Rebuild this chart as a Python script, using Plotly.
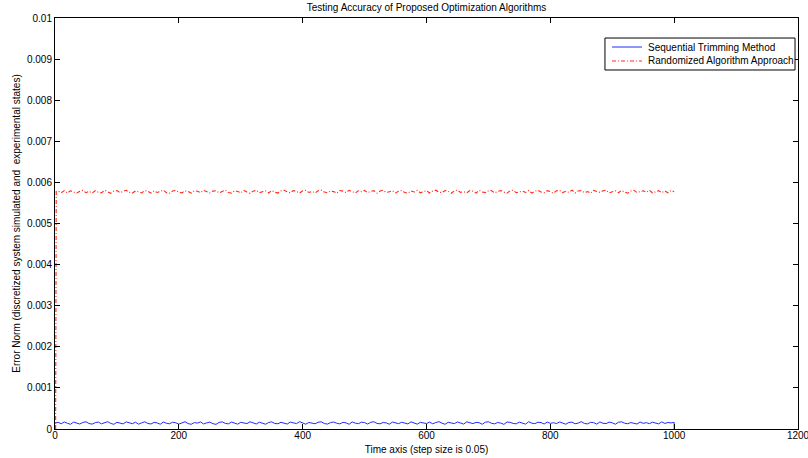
import plotly.graph_objects as go

# Time samples (every 5 steps) for the steady part of both runs
t_steady = list(range(5, 1001, 5))

# Randomized Algorithm Approach: error norm at each sample
rand_start_t = [1, 2]
rand_start_v = [0.0, 0.005778]
rand_vals = [
    0.005790, 0.005748, 0.005801, 0.005742, 0.005795, 0.005770, 0.005738, 0.005786, 0.005806, 0.005751,
    0.005784, 0.005740, 0.005797, 0.005763, 0.005745, 0.005808, 0.005772, 0.005736, 0.005789, 0.005799,
    0.005750, 0.005781, 0.005809, 0.005758, 0.005741, 0.005793, 0.005774, 0.005744, 0.005802, 0.005785,
    0.005739, 0.005796, 0.005755, 0.005782, 0.005811, 0.005749, 0.005737, 0.005791, 0.005804, 0.005760,
    0.005746, 0.005794, 0.005779, 0.005740, 0.005800, 0.005783, 0.005752, 0.005807, 0.005768, 0.005743,
    0.005788, 0.005799, 0.005747, 0.005776, 0.005812, 0.005753, 0.005739, 0.005797, 0.005781, 0.005745,
    0.005803, 0.005765, 0.005735, 0.005787, 0.005806, 0.005750, 0.005778, 0.005794, 0.005742, 0.005801,
    0.005761, 0.005741, 0.005792, 0.005809, 0.005771, 0.005748, 0.005800, 0.005785, 0.005738, 0.005795,
    0.005805, 0.005754, 0.005782, 0.005743, 0.005798, 0.005811, 0.005764, 0.005746, 0.005791, 0.005776,
    0.005736, 0.005802, 0.005787, 0.005751, 0.005807, 0.005769, 0.005742, 0.005796, 0.005773, 0.005804,
    0.005749, 0.005780, 0.005799, 0.005740, 0.005789, 0.005810, 0.005756, 0.005772, 0.005798, 0.005744,
    0.005786, 0.005803, 0.005752, 0.005737, 0.005794, 0.005766, 0.005806, 0.005747, 0.005777, 0.005801,
    0.005741, 0.005792, 0.005811, 0.005762, 0.005750, 0.005803, 0.005783, 0.005736, 0.005795, 0.005808,
    0.005757, 0.005774, 0.005745, 0.005799, 0.005788, 0.005739, 0.005806, 0.005765, 0.005752, 0.005791,
    0.005804, 0.005744, 0.005781, 0.005800, 0.005763, 0.005738, 0.005796, 0.005809, 0.005748, 0.005778,
    0.005790, 0.005755, 0.005802, 0.005740, 0.005785, 0.005807, 0.005766, 0.005749, 0.005799, 0.005774,
    0.005737, 0.005797, 0.005806, 0.005751, 0.005782, 0.005760, 0.005812, 0.005743, 0.005793, 0.005801,
    0.005753, 0.005776, 0.005739, 0.005805, 0.005787, 0.005758, 0.005798, 0.005808, 0.005744, 0.005771,
    0.005795, 0.005747, 0.005803, 0.005764, 0.005736, 0.005789, 0.005806, 0.005754, 0.005784, 0.005797,
    0.005762, 0.005810, 0.005742, 0.005779, 0.005800, 0.005750, 0.005791, 0.005746, 0.005802, 0.005775,
]

# Sequential Trimming Method: error norm at each sample
seq_start_t = [0]
seq_start_v = [0.000141]
seq_vals = [
    0.000162, 0.000128, 0.000171, 0.000139, 0.000115, 0.000168, 0.000150, 0.000121, 0.000159, 0.000176,
    0.000133, 0.000118, 0.000155, 0.000169, 0.000126, 0.000147, 0.000178, 0.000136, 0.000114, 0.000163,
    0.000152, 0.000124, 0.000173, 0.000141, 0.000129, 0.000166, 0.000117, 0.000150, 0.000175, 0.000134,
    0.000122, 0.000161, 0.000148, 0.000116, 0.000170, 0.000140, 0.000127, 0.000165, 0.000153, 0.000119,
    0.000158, 0.000177, 0.000131, 0.000115, 0.000156, 0.000144, 0.000172, 0.000123, 0.000149, 0.000167,
    0.000130, 0.000113, 0.000160, 0.000174, 0.000137, 0.000125, 0.000169, 0.000146, 0.000118, 0.000162,
    0.000154, 0.000132, 0.000176, 0.000140, 0.000122, 0.000166, 0.000150, 0.000116, 0.000157, 0.000173,
    0.000135, 0.000127, 0.000163, 0.000142, 0.000120, 0.000168, 0.000151, 0.000131, 0.000178, 0.000138,
    0.000117, 0.000159, 0.000147, 0.000128, 0.000164, 0.000175, 0.000133, 0.000119, 0.000155, 0.000170,
    0.000141, 0.000124, 0.000161, 0.000150, 0.000114, 0.000172, 0.000143, 0.000129, 0.000166, 0.000156,
    0.000121, 0.000163, 0.000177, 0.000136, 0.000126, 0.000159, 0.000148, 0.000117, 0.000169, 0.000152,
    0.000130, 0.000165, 0.000139, 0.000123, 0.000174, 0.000155, 0.000118, 0.000161, 0.000144, 0.000134,
    0.000168, 0.000127, 0.000157, 0.000179, 0.000141, 0.000115, 0.000163, 0.000150, 0.000131, 0.000171,
    0.000136, 0.000120, 0.000173, 0.000147, 0.000132, 0.000160, 0.000153, 0.000116, 0.000166, 0.000176,
    0.000139, 0.000125, 0.000158, 0.000144, 0.000113, 0.000170, 0.000162, 0.000134, 0.000127, 0.000167,
    0.000150, 0.000119, 0.000177, 0.000142, 0.000130, 0.000164, 0.000157, 0.000122, 0.000168, 0.000137,
    0.000153, 0.000133, 0.000172, 0.000145, 0.000116, 0.000160, 0.000166, 0.000128, 0.000143, 0.000179,
    0.000135, 0.000124, 0.000162, 0.000155, 0.000119, 0.000171, 0.000139, 0.000131, 0.000167, 0.000150,
    0.000117, 0.000163, 0.000175, 0.000141, 0.000128, 0.000157, 0.000146, 0.000121, 0.000169, 0.000137,
    0.000154, 0.000130, 0.000165, 0.000144, 0.000125, 0.000173, 0.000135, 0.000158, 0.000148, 0.000160,
]
seq_end_t = [1000]
seq_end_v = [0.0]

x_ticks = [0, 200, 400, 600, 800, 1000, 1200]
y_ticks = [0, 0.001, 0.002, 0.003, 0.004, 0.005, 0.006, 0.007, 0.008, 0.009, 0.01]
y_tick_text = ["0", "0.001", "0.002", "0.003", "0.004", "0.005", "0.006",
               "0.007", "0.008", "0.009", "0.01"]

series_names = ["Sequential Trimming Method", "Randomized Algorithm Approach"]
series_colors = ["#1f2cff", "#ff2a1a"]
series_dashes = ["solid", "4px,2px,1px,2px"]

FONT = "Liberation Sans, Arial, Helvetica, sans-serif"

fig = go.Figure()
fig.add_trace(go.Scatter(
    x=seq_start_t + t_steady + seq_end_t,
    y=seq_start_v + seq_vals + seq_end_v,
    mode="lines", name=series_names[0], showlegend=False,
    line=dict(color=series_colors[0], width=1, dash=series_dashes[0]),
))
fig.add_trace(go.Scatter(
    x=rand_start_t + t_steady,
    y=rand_start_v + rand_vals,
    mode="lines", name=series_names[1], showlegend=False,
    line=dict(color=series_colors[1], width=1.1, dash=series_dashes[1]),
))

# Boxed legend in the upper right corner (MATLAB style, compact rows)
L_X0, L_X1, L_Y0, L_Y1 = 0.7402, 0.9960, 0.8735, 0.9513
SAMPLE_X0, SAMPLE_X1, TEXT_X = 0.7497, 0.7900, 0.7954
ROW_Y = [0.9294, 0.8954]
fig.add_shape(type="rect", xref="paper", yref="paper",
              x0=L_X0, x1=L_X1, y0=L_Y0, y1=L_Y1,
              line=dict(color="black", width=1), fillcolor="white", layer="above")
for name, color, dash, ry in zip(series_names, series_colors, series_dashes, ROW_Y):
    fig.add_shape(type="line", xref="paper", yref="paper",
                  x0=SAMPLE_X0, x1=SAMPLE_X1, y0=ry, y1=ry,
                  line=dict(color=color, width=1, dash=dash), layer="above")
    fig.add_annotation(xref="paper", yref="paper", x=TEXT_X, y=ry,
                       xanchor="left", yanchor="middle", showarrow=False,
                       text=name, font=dict(family=FONT, size=10, color="black"))

axis_common = dict(
    showgrid=False, zeroline=False, showline=True, linecolor="black", linewidth=1,
    mirror="ticks", ticks="inside", ticklen=5, tickcolor="black", tickwidth=1,
    tickfont=dict(family=FONT, size=10, color="black"), automargin=False,
    ticklabeloverflow="allow",
)

fig.update_layout(
    width=808, height=458,
    margin=dict(l=55, r=10, t=18, b=29),
    paper_bgcolor="white", plot_bgcolor="white",
    font=dict(family=FONT, color="black"),
    title=dict(text="Testing Accuracy of Proposed Optimization Algorithms",
               x=0.5, xanchor="center", xref="paper", y=1 - 7 / 458, yanchor="middle",
               font=dict(family=FONT, size=10, color="black")),
    xaxis=dict(range=[0, 1200], tickvals=x_ticks, ticktext=[str(v) for v in x_ticks],
               ticklabelstandoff=-3,
               title=dict(text="Time axis (step size is 0.05)", standoff=5,
                          font=dict(family=FONT, size=10)),
               **axis_common),
    yaxis=dict(range=[0, 0.01], tickvals=y_ticks, ticktext=y_tick_text,
               title=dict(text="Error Norm (discretized system simulated and  experimental states)",
                          standoff=4, font=dict(family=FONT, size=10)),
               **axis_common),
    showlegend=False,
)

fig.write_html("out.html")
